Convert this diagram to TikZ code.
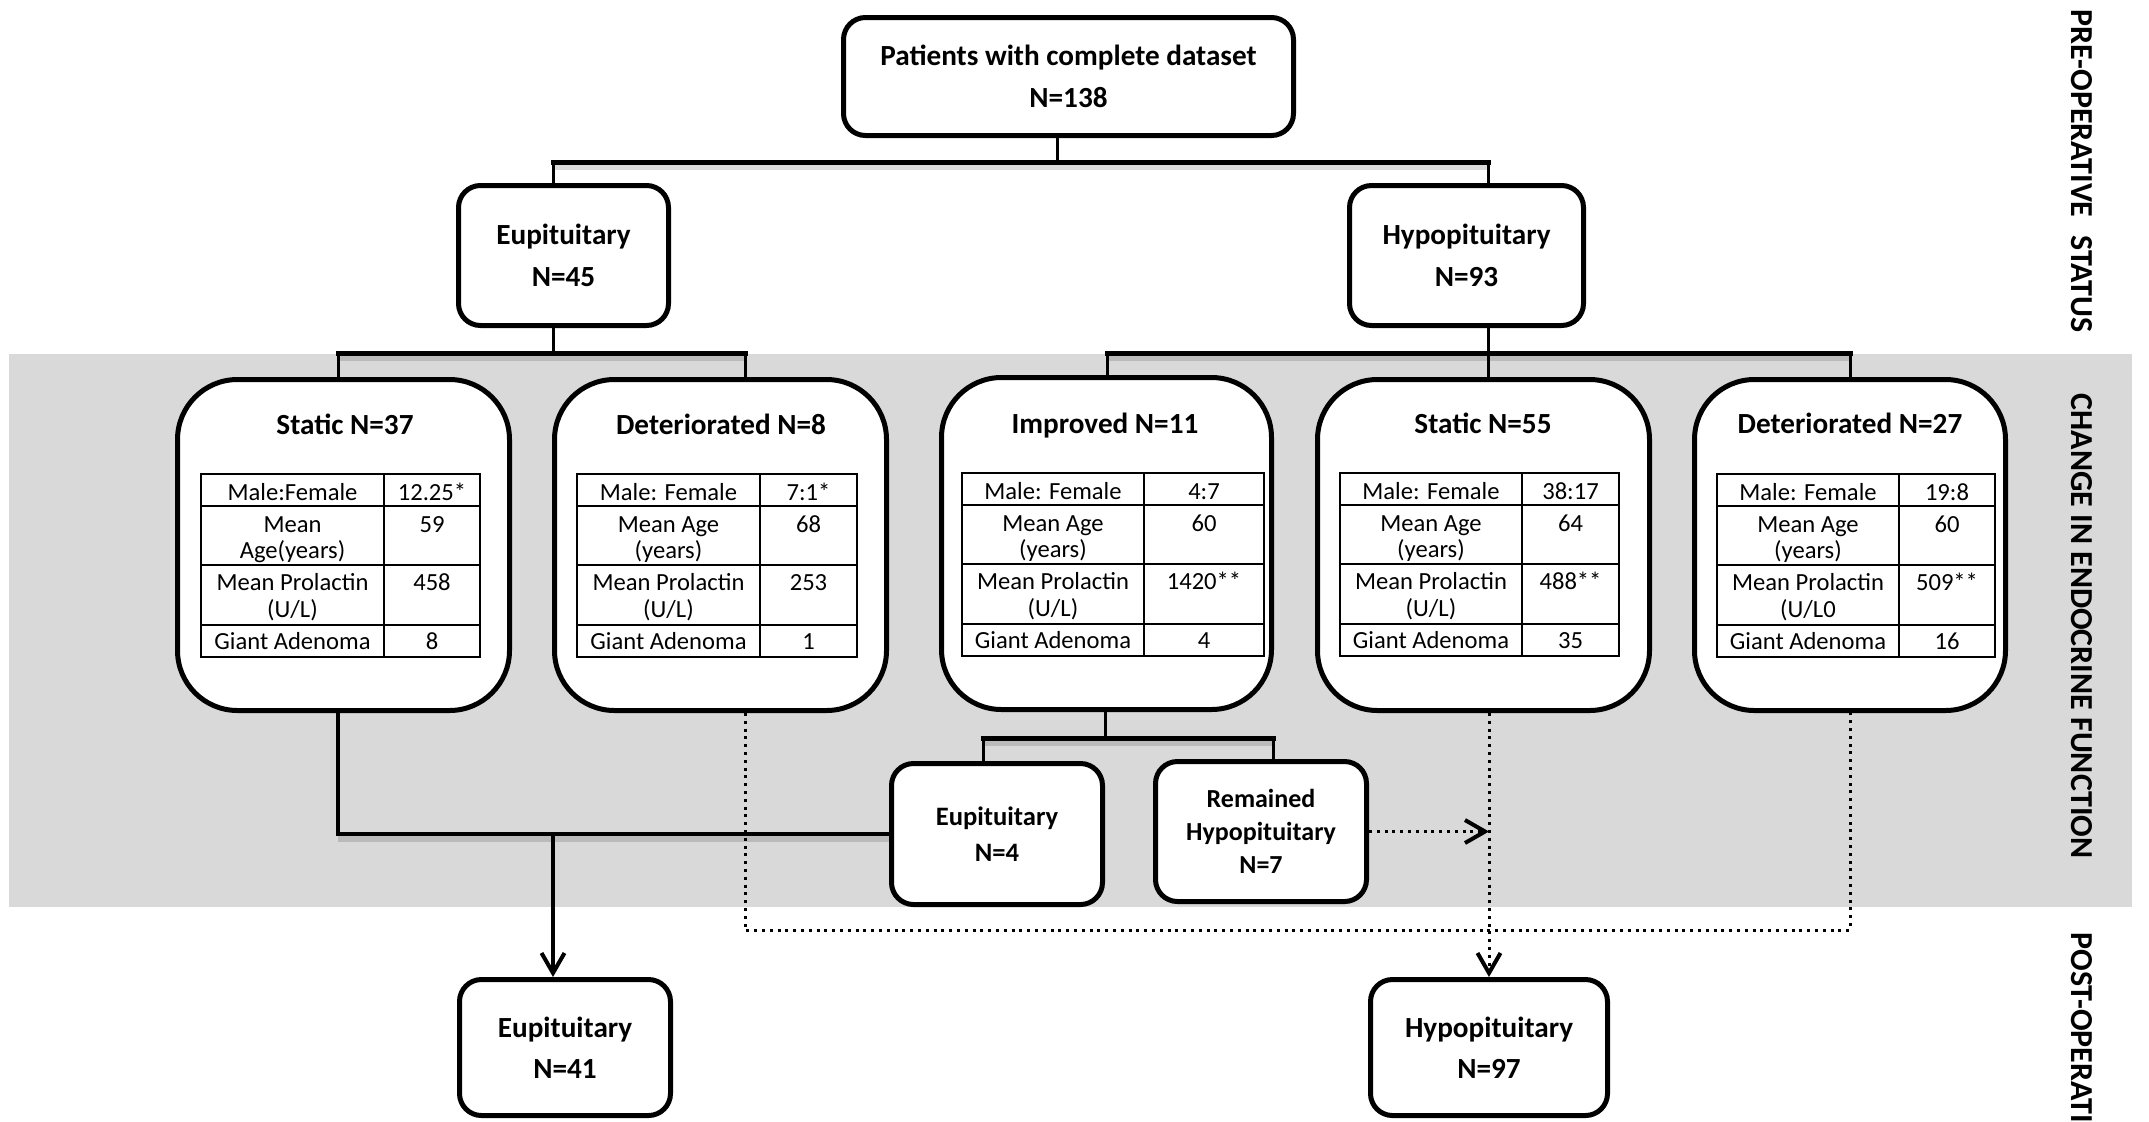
\documentclass[tikz,border=0pt]{standalone}
\usepackage{fontspec}
\setmainfont{Carlito}
\usetikzlibrary{arrows.meta}
\definecolor{band}{HTML}{D9D9D9}
\newcommand\tabgrid[4]{%
  \xdef\TL{#1}\xdef\TS{#2}\xdef\TR{#3}\xdef\TT{#4}%
  \draw[tabline] (#1,#4) rectangle (#3,{#4+183});
  \draw[tabline] (#2,#4) -- (#2,{#4+183});
  \foreach \o in {32,91,151} {\draw[tabline] (#1,{#4+\o}) -- (#3,{#4+\o});}
}
\newcommand\tabtext[9]{%
  \pgfmathsetmacro\LX{(\TL+\TS)/2}\pgfmathsetmacro\RX{(\TS+\TR)/2}%
  \node[cell] (#1-a) at (\LX,{\TT+26}) {#2};
  \node[cell] (#1-av) at (\RX,{\TT+26}) {#6};
  \node[cell] (#1-b1) at (\LX,{\TT+58}) {#3};
  \node[cell] (#1-b2) at (\LX,{\TT+84}) {#4};
  \node[cell] (#1-bv) at (\RX,{\TT+58}) {#7};
  \node[cell] (#1-c1) at (\LX,{\TT+116}) {Mean Prolactin};
  \node[cell] (#1-c2) at (\LX,{\TT+143}) {#5};
  \node[cell] (#1-cv) at (\RX,{\TT+116}) {#8};
  \node[cell] (#1-d) at (\LX,{\TT+175}) {Giant Adenoma};
  \node[cell] (#1-dv) at (\RX,{\TT+175}) {#9};
}
\begin{document}
\begin{tikzpicture}[x=0.5pt,y=-0.5pt,
  box/.style={draw, line width=2.5pt, fill=white, rounded corners=11pt, inner sep=0pt, align=center, font=\bfseries\fontsize{14.6}{20.75}\selectfont},
  bigbox/.style={draw, line width=2.5pt, fill=white, rounded corners=30pt, inner sep=0pt, minimum height=165.5pt},
  title/.style={anchor=base, inner sep=0pt, font=\bfseries\fontsize{14.6}{17}\selectfont},
  cell/.style={anchor=base, inner sep=0pt, font=\fontsize{12.3}{14}\selectfont},
  tabline/.style={line width=1pt},
  bar/.style={line width=2.5pt, line cap=rect},
  barshadow/.style={line width=3pt, draw=black, opacity=0.14, transform canvas={yshift=-2.5pt}},
  conn/.style={line width=1.5pt},
  thickconn/.style={line width=2.2pt},
  dots/.style={line width=1.5pt, dash pattern=on 1.5pt off 2.4pt},
  tip/.style={-{Straight Barb[length=10pt,width=11.5pt,line width=2pt]}},
  side/.style={rotate=-90, inner sep=0pt, font=\bfseries\fontsize{16}{19}\selectfont}
]
\clip (0,0) rectangle (2149,1121);
\fill[white] (0,0) rectangle (2149,1121);
\fill[band] (9,354) rectangle (2132,907);

% boxes
\node[box, minimum width=225pt, minimum height=59pt] (top) at (1068.5,76.5) {Patients with complete dataset\\N=138};
\node[box, minimum width=105pt, minimum height=70pt] (eup45) at (563.5,255.5) {Eupituitary\\N=45};
\node[box, minimum width=117pt, minimum height=70pt] (hypo93) at (1466.5,255.5) {Hypopituitary\\N=93};

% tree connector positions
\coordinate (a0) at (1057,162); \coordinate (al) at (553,162); \coordinate (ar) at (1488,162);
\coordinate (b0) at (553,353); \coordinate (bl) at (338,353); \coordinate (br) at (745,353);
\coordinate (c0) at (1488,353); \coordinate (cl) at (1107,353); \coordinate (cr) at (1850,353);
\coordinate (d0) at (1105,738); \coordinate (dl) at (983,738); \coordinate (dr) at (1273,738);
\coordinate (e1) at (338,834); \coordinate (e2) at (553,834);
\draw[barshadow] (al) -- (ar);
\draw[barshadow] (bl) -- (br);
\draw[barshadow] (cl) -- (cr);
\draw[barshadow] (dl) -- (dr);
\draw[barshadow] (e1) -- (889,834);

\node[bigbox, minimum width=166pt] (s37) at (343.5,545) {};
\node[bigbox, minimum width=166pt] (d8) at (720.5,545) {};
\node[bigbox, minimum width=165pt, minimum height=166pt] (imp) at (1106.5,543.5) {};
\node[bigbox, minimum width=166pt] (s55) at (1483.5,545) {};
\node[bigbox, minimum width=155.5pt] (d27) at (1850,545) {};

\node[title] (s37t) at (345,434) {Static N=37};
\node[title] (d8t) at (721,434) {Deteriorated N=8};
\node[title] (impt) at (1105,433) {Improved N=11};
\node[title] (s55t) at (1483,433) {Static N=55};
\node[title] (d27t) at (1850,433) {Deteriorated N=27};

\tabgrid{201}{384}{480}{474}
\tabtext{t1}{Male:Female}{Mean}{Age(years)}{(U/L)}{12.25*}{59}{458}{8}
\tabgrid{577}{760}{857}{474}
\tabtext{t2}{Male: Female}{Mean Age}{(years)}{(U/L)}{7:1*}{68}{253}{1}
\tabgrid{962}{1144}{1264}{473}
\tabtext{t3}{Male: Female}{Mean Age}{(years)}{(U/L)}{4:7}{60}{1420**}{4}
\tabgrid{1340}{1522}{1619}{473}
\tabtext{t4}{Male: Female}{Mean Age}{(years)}{(U/L)}{38:17}{64}{488**}{35}
\tabgrid{1717}{1899}{1995}{474}
\tabtext{t5}{Male: Female}{Mean Age}{(years)}{(U/L0}{19:8}{60}{509**}{16}

\node[box, font=\bfseries\fontsize{13.3}{18}\selectfont, minimum width=105.5pt, minimum height=70.5pt] (eup4) at (997,834) {Eupituitary\\N=4};
\node[box, font=\bfseries\fontsize{13}{16.5}\selectfont, minimum width=105.5pt, minimum height=70pt] (rem) at (1261,831.5) {Remained\\Hypopituitary\\N=7};
\node[box, minimum width=105.5pt, minimum height=68pt] (eup41) at (565,1047.5) {Eupituitary\\N=41};
\node[box, minimum width=118.5pt, minimum height=68pt] (hypo97) at (1489,1047.5) {Hypopituitary\\N=97};

\draw[conn] (top.south -| a0) -- (a0);
\draw[conn] (al) -- (eup45.north -| al);
\draw[conn] (ar) -- (hypo93.north -| ar);
\draw[bar] (al) -- (ar);

\draw[conn] (eup45.south -| b0) -- (b0);
\draw[conn] (bl) -- (s37.north -| bl);
\draw[conn] (br) -- (d8.north -| br);
\draw[bar] (bl) -- (br);

\draw[conn] (hypo93.south -| c0) -- (s55.north -| c0);
\draw[conn] (cl) -- (imp.north -| cl);
\draw[conn] (cr) -- (d27.north -| cr);
\draw[bar] (cl) -- (cr);

\draw[conn] (imp.south -| d0) -- (d0);
\draw[conn] (dl) -- (eup4.north -| dl);
\draw[conn] (dr) -- (rem.north -| dr);
\draw[bar] (dl) -- (dr);

% outcome connectors
\draw[thickconn] (s37.south -| e1) -- (e1) -- (eup4.west);
\draw[thickconn, tip] (e2) -- (eup41.north -| e2);

\coordinate (f1) at (745,930); \coordinate (f2) at (1850,930);
\draw[dots] (d8.south -| f1) -- (f1) -- (f2) -- (d27.south -| f2);
\draw[dots, tip] (s55.south -| hypo97.north) -- (hypo97.north);
\draw[dots, tip] (rem.east) -- (rem.east -| hypo97.north);

% side labels
\node[side] (lpre) at (2082,171) {PRE-OPERATIVE\hspace{9pt}STATUS};
\node[side] (lchg) at (2082,626) {CHANGE IN ENDOCRINE FUNCTION};
\node[side, anchor=west] (lpost) at (2082,932) {POST-OPERATIVE STATUS};
\end{tikzpicture}
\end{document}
